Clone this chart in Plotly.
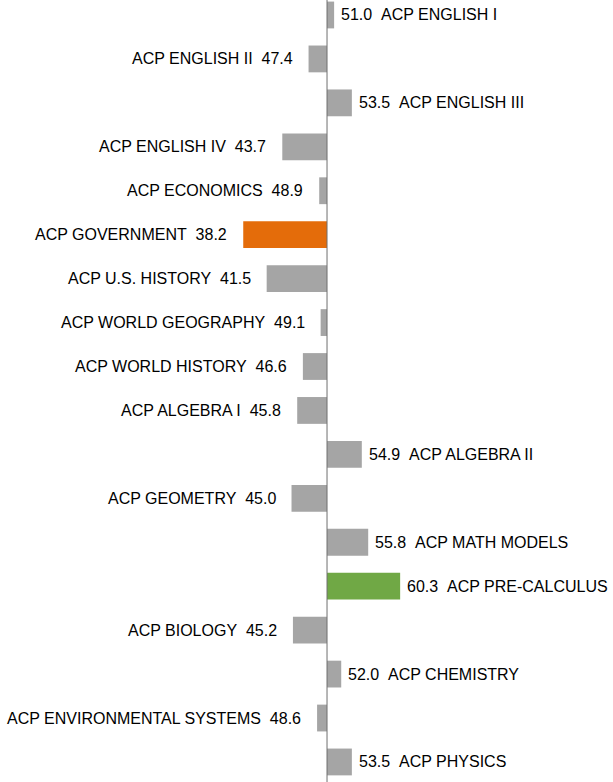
import plotly.graph_objects as go

categories = ["ACP ENGLISH I", "ACP ENGLISH II", "ACP ENGLISH III", "ACP ENGLISH IV",
              "ACP ECONOMICS", "ACP GOVERNMENT", "ACP U.S. HISTORY", "ACP WORLD GEOGRAPHY",
              "ACP WORLD HISTORY", "ACP ALGEBRA I", "ACP ALGEBRA II", "ACP GEOMETRY",
              "ACP MATH MODELS", "ACP PRE-CALCULUS", "ACP BIOLOGY", "ACP CHEMISTRY",
              "ACP ENVIRONMENTAL SYSTEMS", "ACP PHYSICS"]
values = [51.0, 47.4, 53.5, 43.7, 48.9, 38.2, 41.5, 49.1, 46.6, 45.8,
          54.9, 45.0, 55.8, 60.3, 45.2, 52.0, 48.6, 53.5]
baseline = 50.0

GRAY = "#A5A5A5"
ORANGE = "#E46C0A"
GREEN = "#70A845"
colors = [GRAY] * len(values)
colors[values.index(min(values))] = ORANGE
colors[values.index(max(values))] = GREEN

ypos = list(range(len(categories)))

fig = go.Figure()
fig.add_trace(go.Bar(
    y=ypos, x=[v - baseline for v in values], base=baseline,
    orientation="h", marker=dict(color=colors, line=dict(width=0)),
    width=0.61, hoverinfo="skip", showlegend=False,
))

NB = "\u00a0\u00a0"
for i, (c, v) in enumerate(zip(categories, values)):
    if v >= baseline:
        fig.add_annotation(x=v, y=i, text=f"{v:.1f}{NB}{c}", showarrow=False,
                           xanchor="left", xshift=5, yanchor="middle")
    else:
        fig.add_annotation(x=v, y=i, text=f"{c}{NB}{v:.1f}", showarrow=False,
                           xanchor="right", xshift=-14, yanchor="middle")

fig.add_shape(type="line", xref="x", yref="paper", x0=baseline, x1=baseline, y0=0, y1=1,
              line=dict(color="#6E6E6E", width=1))

fig.update_layout(
    width=613, height=782,
    margin=dict(l=0, r=0, t=0, b=0),
    paper_bgcolor="white", plot_bgcolor="white",
    font=dict(family="Liberation Sans, Arial, sans-serif", size=16, color="#000000"),
    xaxis=dict(range=[3.94, 90.28], visible=False, fixedrange=True),
    yaxis=dict(range=[17.456, -0.341], visible=False, fixedrange=True),
    bargap=0.39,
)

fig.write_html("out.html", config={"displayModeBar": False},
               post_script="document.body.style.margin='0';")
